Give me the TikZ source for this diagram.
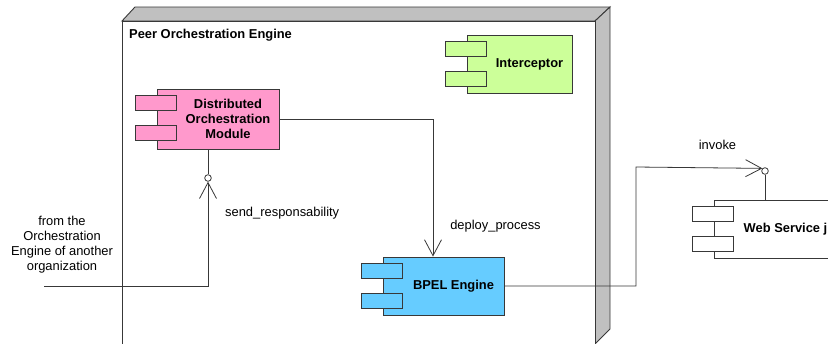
\documentclass[tikz,border=0pt]{standalone}
\usepackage{fontspec}
\setmainfont{Liberation Sans}
\usetikzlibrary{arrows.meta,calc}
\definecolor{pinkc}{HTML}{FF99CC}
\definecolor{greenc}{HTML}{CCFF99}
\definecolor{bluec}{HTML}{66CCFF}
\definecolor{grayc}{HTML}{C0C0C0}
\definecolor{linec}{HTML}{383838}
\newcommand\comptabs[2]{%
  \draw[tabline,fill=#2] ($(#1.north west)+(-21,7)$) rectangle ++(41,15);
  \draw[tabline,fill=#2] ($(#1.north west)+(-21,37)$) rectangle ++(41,15);}
\begin{document}
\begin{tikzpicture}[x=1pt,y=-1pt,
  font=\fontsize{12.9}{15}\selectfont,
  tabline/.style={draw=linec,line width=0.9pt},
  compbody/.style={draw=linec,line width=0.9pt,fill=#1,inner sep=0pt,minimum height=58pt},
  comptext/.style={font=\fontsize{12.9}{15}\selectfont\bfseries,align=center,inner sep=0pt},
  conn/.style={draw=linec,line width=0.8pt},
  arr/.style={conn,-{Straight Barb[length=16pt,width=17pt,line width=0.8pt]}},
  lolli/.style={circle,draw=linec,line width=0.8pt,fill=white,minimum size=6.6pt,inner sep=0pt},
  plain/.style={inner sep=0pt,align=center}]
\clip (0,0) rectangle (828,343);
\fill[white] (0,0) rectangle (828,343);
% 3D node frame
\draw[linec,line width=0.9pt,fill=grayc] (122,21) -- (135,7) -- (610,7) -- (595,21) -- cycle;
\draw[linec,line width=0.9pt,fill=grayc] (595,21) -- (610,7) -- (610,329) -- (595,344) -- cycle;
\draw[linec,line width=0.9pt,fill=white] (122,21) rectangle (595,350);
\node[anchor=west,font=\fontsize{12.9}{15}\selectfont\bfseries,inner sep=0pt] (title) at (129,35) {Peer Orchestration Engine};
% components
\node[compbody=pinkc,minimum width=122pt,minimum height=60pt] (dom) at (218,119) {};
\comptabs{dom}{pinkc}
\node[comptext] (domt) at ($(dom.center)+(10,0)$) {Distributed\\Orchestration\\Module};
\node[compbody=greenc,minimum width=105pt] (icp) at (519.5,64) {};
\comptabs{icp}{greenc}
\node[comptext] (icpt) at ($(icp.center)+(10,0)$) {Interceptor};
\node[compbody=bluec,minimum width=121pt] (bpel) at (443.5,286) {};
\comptabs{bpel}{bluec}
\node[comptext] (bpelt) at ($(bpel.center)+(10,0)$) {BPEL Engine};
\node[compbody=white,minimum width=123pt] (ws) at (775.5,229) {};
\comptabs{ws}{white}
\node[comptext] (wst) at ($(ws.center)+(10,0)$) {Web Service j};
% interfaces
\node[lolli] (ifa) at (208,178) {};
\node[lolli] (ifb) at (765,171) {};
\draw[conn] (ifa |- dom.south) -- (ifa.north);
\draw[conn] (ifb.south) -- (ifb |- ws.north);
% connectors
\coordinate (src) at (44,286);
\draw[arr] (src) -- (src -| ifa) -- (ifa.south);
\coordinate (c1) at (433,119);
\draw[arr] (dom.east) -- (dom.east -| c1) -- (c1 |- bpel.north);
\coordinate (c2) at (636,167);
\draw[arr] (bpel.east) -- (bpel.east -| c2) -- (c2) -- (ifb.north west);
% labels
\node[plain,anchor=west] (lsend) at (225,213) {send\_responsability};
\node[plain] (ldeploy) at (495.5,226) {deploy\_process};
\node[plain] (linvoke) at (717.5,145) {invoke};
\node[plain] (lfrom) at (62,244.5) {from the\\Orchestration\\Engine of another\\organization};
\end{tikzpicture}
\end{document}
